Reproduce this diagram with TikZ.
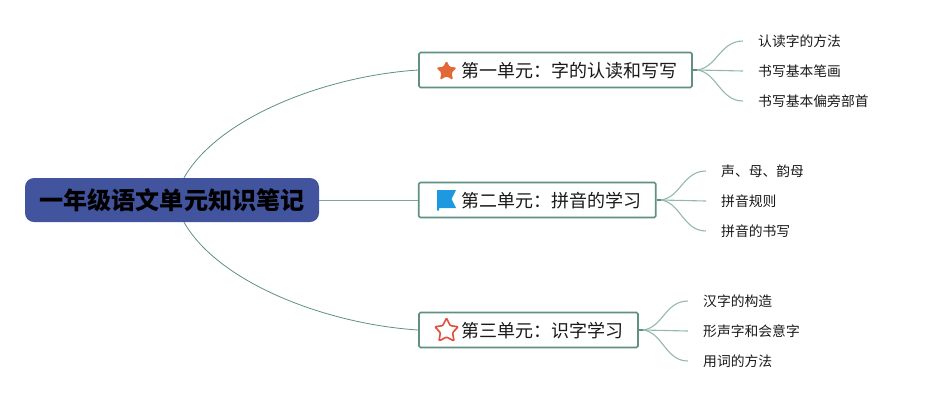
\documentclass[tikz,border=0pt]{standalone}
\usepackage{fontspec}
\setmainfont{Noto Sans CJK SC}
\definecolor{lineg}{HTML}{5F9083}
\definecolor{subg}{HTML}{94B8AC}
\definecolor{rootb}{HTML}{43549F}
\tikzset{
  x=1pt,y=-1pt,
  rootbox/.style={rectangle,rounded corners=9pt,fill=rootb,minimum width=294pt,minimum height=44pt,inner sep=0pt,font=\fontsize{24.1}{26}\selectfont\bfseries,text=black},
  unitbox/.style={rectangle,rounded corners=1.5pt,draw=lineg,line width=1.6pt,fill=white,minimum height=35pt,inner sep=0pt},
  unittext/.style={inner sep=0pt,anchor=west,font=\fontsize{18}{20}\selectfont,text=black!90},
  leaf/.style={inner sep=0pt,anchor=west,font=\fontsize{13.8}{15}\selectfont,text=black!90},
  main/.style={draw=lineg,line width=0.8pt},
  sub/.style={draw=subg,line width=1.1pt},
  stub/.style={draw=lineg,line width=1.6pt},
}
\begin{document}
\begin{tikzpicture}
\useasboundingbox (0,0) rectangle (929,400);
\node[rootbox] (root) at (172,200) {一年级语文单元知识笔记};
\node[unitbox,minimum width=273pt] (u1) at (555.5,70) {};
\node[unitbox,minimum width=237pt] (u2) at (537.2,200) {};
\node[unitbox,minimum width=219pt] (u3) at (528.5,330) {};
\node[unittext] (t1) at (461,70.5) {第一单元：字的认读和写写};
\node[unittext] (t2) at (461,200.5) {第二单元：拼音的学习};
\node[unittext] (t3) at (461,330.5) {第三单元：识字学习};
\node[leaf] (a1) at (758,41) {认读字的方法};
\node[leaf] (a2) at (758,71) {书写基本笔画};
\node[leaf] (a3) at (758,101) {书写基本偏旁部首};
\node[leaf] (b1) at (721,171) {声、母、韵母};
\node[leaf] (b2) at (721,201) {拼音规则};
\node[leaf] (b3) at (721,231) {拼音的书写};
\node[leaf] (c1) at (703,301) {汉字的构造};
\node[leaf] (c2) at (703,331) {形声字和会意字};
\node[leaf] (c3) at (703,361) {用词的方法};
% root links
\draw[main] ([xshift=12pt]root.north) .. controls +(34,-60) and (325,76) .. (u1.west);
\draw[main,draw=lineg!80] (root.east) -- (u2.west);
\draw[main] ([xshift=12pt]root.south) .. controls +(34,60) and (325,324) .. (u3.west);
% leaf links
\foreach \u/\k in {u1/a,u2/b,u3/c}{
  \draw[sub] ([xshift=4pt]\u.east) .. controls +(20,-2) and ([xshift=-38pt]\k1.west) .. ([xshift=-15pt]\k1.west);
  \draw[sub] ([xshift=4pt]\u.east) -- ([xshift=-15pt]\k2.west);
  \draw[sub] ([xshift=4pt]\u.east) .. controls +(20,2) and ([xshift=-38pt]\k3.west) .. ([xshift=-15pt]\k3.west);
  \draw[stub] (\u.east) -- ([xshift=4pt]\u.east);
}
% icons
\fill[rounded corners=1.5pt,fill={rgb,255:red,226;green,104;blue,56}]
  (446.5,60.5) -- (449.5,66.8) -- (456.8,67.6) -- (451.6,72.6) -- (453,80) -- (446.5,76.3) -- (440,80) -- (441.4,72.6) -- (436.2,67.6) -- (443.5,66.8) -- cycle;
\fill[fill={rgb,255:red,30;green,152;blue,222}] (437,190) -- (456,190) -- (451.5,199) -- (456,208) -- (439,208) -- (439,210.5) -- (437,210.5) -- cycle;
\draw[draw={rgb,255:red,226;green,78;blue,62},fill=white,line width=1.6pt,line join=round,rounded corners=1pt]
  (446.5,318) -- (450.2,325.6) -- (458.2,326.8) -- (452.6,332.6) -- (454,341) -- (446.5,337) -- (439,341) -- (440.4,332.6) -- (434.8,326.8) -- (442.8,325.6) -- cycle;
\end{tikzpicture}
\end{document}
